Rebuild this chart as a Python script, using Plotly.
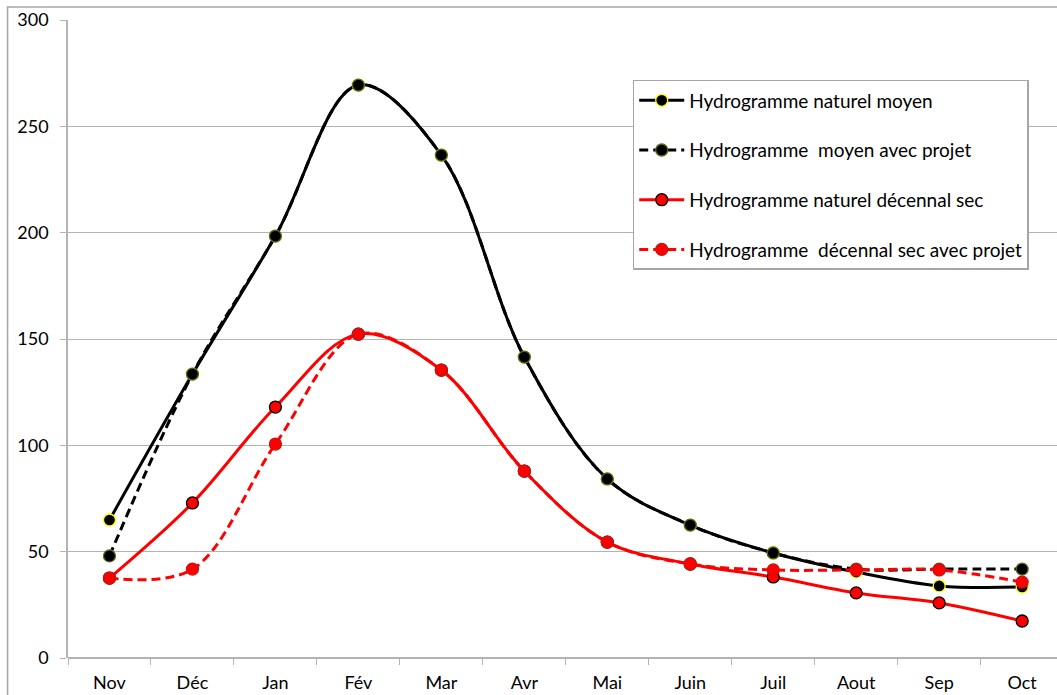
import plotly.graph_objects as go

# Months of the hydrological year (November to October)
mois = ["Nov", "Déc", "Jan", "Fév", "Mar", "Avr", "Mai", "Juin", "Juil", "Aout", "Sep", "Oct"]

# Monthly discharges
naturel_moyen = [64.9, 133.5, 198.4, 269.4, 236.5, 141.5, 84.2, 62.5, 49.4, 40.4, 33.9, 33.4]
moyen_projet = [48.0, 133.5, 198.4, 269.4, 236.5, 141.5, 84.2, 62.5, 49.4, 41.8, 41.8, 41.8]
naturel_decennal_sec = [37.6, 72.9, 118.0, 152.3, 135.4, 87.9, 54.5, 44.2, 38.1, 30.6, 25.9, 17.4]
decennal_sec_projet = [37.6, 41.8, 100.6, 152.3, 135.4, 87.9, 54.5, 44.2, 41.4, 41.4, 41.4, 35.7]

series = [
    ("Hydrogramme naturel moyen", naturel_moyen, "#000000", "solid", "#000000", "#FFFF00"),
    ("Hydrogramme  moyen avec projet", moyen_projet, "#000000", "9px,5px", "#000000", "#5A6B1E"),
    ("Hydrogramme naturel décennal sec", naturel_decennal_sec, "#FF0000", "solid", "#FF0000", "#000000"),
    ("Hydrogramme  décennal sec avec projet", decennal_sec_projet, "#FF0000", "9px,5px", "#FF0000", "#C81414"),
]

fig = go.Figure()
for i, (name, vals, col, dash, fill, edge) in enumerate(series):
    fig.add_trace(go.Scatter(
        x=mois, y=vals, name=name, mode="lines+markers",
        legendgroup=f"g{i}",
        line=dict(color=col, width=3, dash=dash, shape="spline", smoothing=1.0),
        marker=dict(size=12, color=fill, line=dict(color=edge, width=1.3)),
    ))

grid = "#B3B3B3"
fig.update_layout(
    width=1057, height=695,
    margin=dict(l=68, r=0, t=20, b=37),
    paper_bgcolor="white", plot_bgcolor="white",
    font=dict(family="Lato", size=17, color="#000000"),
    showlegend=True,
    legend=dict(
        x=0.571, y=0.906, xanchor="left", yanchor="top",
        bgcolor="white", bordercolor="#A6A6A6", borderwidth=1.5,
        font=dict(family="Lato", size=19),
        traceorder="grouped", tracegroupgap=22,
        itemwidth=45,
    ),
    xaxis=dict(
        type="category", range=[-0.5, 11.42],
        showgrid=False, showline=False, zeroline=False,
        tickson="boundaries", ticks="outside", ticklen=6, tickcolor=grid, tickwidth=1,
        ticklabelstandoff=12,
        tickfont=dict(size=18),
    ),
    yaxis=dict(
        range=[0, 300], tickvals=[0, 50, 100, 150, 200, 250, 300],
        showgrid=True, gridcolor=grid, gridwidth=1,
        showline=True, linecolor=grid, linewidth=1.5,
        zeroline=True, zerolinecolor=grid, zerolinewidth=1.5,
        ticks="outside", ticklen=6, tickcolor=grid,
        ticklabelstandoff=8,
        tickfont=dict(size=18),
    ),
    shapes=[dict(
        type="rect", xref="paper", yref="paper",
        x0=-0.0611, x1=1.05, y0=-0.2, y1=1.0204,
        line=dict(color="#A6A6A6", width=1.5), fillcolor="rgba(0,0,0,0)",
        layer="below",
    )],
)

fig.write_html("out.html")
